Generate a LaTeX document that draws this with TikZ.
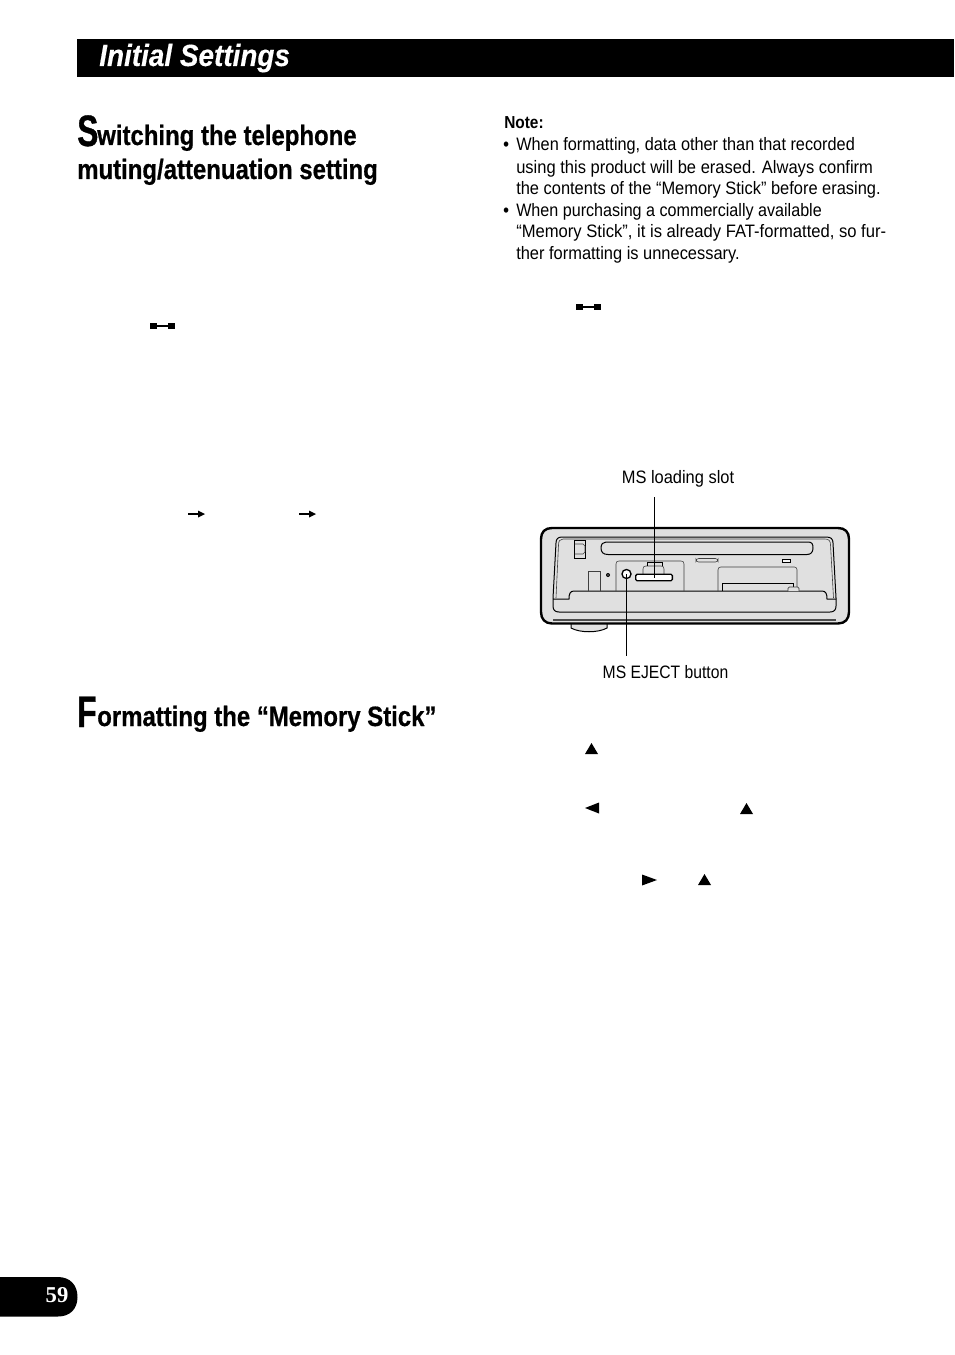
\documentclass[tikz,border=0pt]{standalone}
\usepackage{fontspec}
\setmainfont{Liberation Sans}
\newfontfamily\headf[FakeStretch=0.855,FakeBold=0.6]{Liberation Sans Bold}
\newfontfamily\bigf[FakeStretch=0.72,FakeBold=0.8]{Liberation Sans Bold}
\newfontfamily\bodyf[FakeStretch=0.913]{Liberation Sans}
\newfontfamily\notef[FakeStretch=0.89]{Liberation Sans Bold}
\newfontfamily\titlef[FakeStretch=0.91,FakeBold=0.3]{Liberation Sans Bold Italic}
\newfontfamily\numf{Liberation Serif Bold}
\tikzset{
  x=0.75pt,y=-0.75pt,
  bodytext/.style={anchor=base west,inner sep=0,font=\bodyf\fontsize{13.5}{16}\selectfont},
  bullettext/.style={anchor=base west,inner sep=0,font=\notef\fontsize{13.5}{16}\selectfont},
  headtext/.style={anchor=base west,inner sep=0,font=\headf\fontsize{21}{25}\selectfont},
  bigtext/.style={anchor=base west,inner sep=0,font=\bigf\fontsize{33}{40}\selectfont},
  captext/.style={anchor=base,inner sep=0,font=\bodyf\fontsize{13.5}{16}\selectfont},
  dl/.style={line width=0.75pt,black},
  thinl/.style={line width=0.45pt,black!75},
  glyph/.style={fill=black,draw=none},
  leadline/.style={line width=0.7pt,black},
}
\begin{document}
\begin{tikzpicture}
\useasboundingbox (0,0) rectangle (954,1355);
\fill[black] (77,39) rectangle (954,77);
\node[anchor=base west,inner sep=0,text=white,font=\titlef\fontsize{23}{28}\selectfont] (title) at (99,66) {Initial Settings};
% headings
\node[bigtext] (s1) at (77,146) {S};
\node[headtext] (h1) at (97,145) {witching the telephone};
\node[headtext] (h2) at (77,179) {muting/attenuation setting};
\node[bigtext] (f1) at (77,727) {F};
\node[headtext] (h3) at (97,726) {ormatting the “Memory Stick”};
% note
\node[anchor=base west,inner sep=0,font=\notef\fontsize{13}{16}\selectfont] (n0) at (504,129) {Note:};
\node[bullettext] (b1) at (503,151) {•};
\node[bodytext,xscale=0.991] (n1) at (516,151) {When formatting, data other than that recorded};
\node[bodytext,xscale=1.005] (n2) at (516,174) {using this product will be erased. Always confirm};
\node[bodytext] (n3) at (516,195) {the contents of the “Memory Stick” before erasing.};
\node[bullettext] (b2) at (503,217) {•};
\node[bodytext,xscale=0.981] (n4) at (516,217) {When purchasing a commercially available};
\node[bodytext,xscale=1.011] (n5) at (516,238) {“Memory Stick”, it is already FAT-formatted, so fur-};
\node[bodytext] (n6) at (516,259) {ther formatting is unnecessary.};
% small glyphs
\foreach \gx/\gy in {150/326,576/307}{
  \fill[glyph] (\gx,\gy-3) rectangle ++(7,6);
  \fill[glyph] (\gx+18,\gy-3) rectangle ++(7,6);
  \fill[glyph] (\gx+7,\gy-1) rectangle ++(11,2);
}
\foreach \gx in {188,299}{
  \fill[glyph] (\gx,513) rectangle ++(11,2);
  \fill[glyph] (\gx+10,510.5) -- (\gx+17,514) -- (\gx+10,517.5) -- cycle;
}
\foreach \gx/\gy in {585/754,740/814,698/885}{
  \fill[glyph] (\gx,\gy) -- (\gx+13,\gy) -- (\gx+6.5,\gy-11) -- cycle;
}
\fill[glyph] (585,808) -- (599,802.5) -- (599,813.5) -- cycle;
\fill[glyph] (642,874.5) -- (657,880) -- (642,885.5) -- cycle;
% foot
\draw[dl,fill=black!12] (571,621) -- (571,628) .. controls (580,633) and (598,633) .. (607,628) -- (607,621);
% device
\draw[line width=1.8pt,fill=black!12] (552,528) -- (838,528) .. controls (845,528) and (849,532) .. (849,539) -- (849,612) .. controls (849,619) and (845,623.5) .. (838,623.5) -- (552,623.5) .. controls (545,623.5) and (541,619) .. (541,612) -- (541,539) .. controls (541,532) and (545,528) .. (552,528) -- cycle;
% inner bezel
\draw[dl] (553,598) -- (556,543) .. controls (556,539) and (558,537) .. (562,537) -- (826,537) .. controls (831,537) and (833,539) .. (833,543) -- (836,598);
\draw[thinl] (556,598) -- (558.5,545) .. controls (558.5,541) and (560,539) .. (563,539) -- (825,539) .. controls (829,539) and (830.5,541) .. (830.5,545) -- (833.5,598);
% lower band
\draw[dl] (553,598) -- (553,606) .. controls (553,610) and (555,612) .. (559,612) -- (830,612) .. controls (834,612) and (836,610) .. (836,606) -- (836,598);
\draw[dl] (553,599) -- (569,599) .. controls (569,594) and (570,591) .. (574,591) -- (822,591) .. controls (826,591) and (827,594) .. (827,599) -- (836,599);
\draw[line width=1pt,black!70] (553,620) -- (836,620);
% slot
\draw[dl] (606,542) -- (808,542) .. controls (812,542) and (813,544) .. (813,548) .. controls (813,552) and (811,554.5) .. (807,554.5) -- (608,554.5) .. controls (603,554.5) and (601,552) .. (601,548) .. controls (601,544) and (603,542) .. (606,542) -- cycle;
% top-left square
\draw[dl] (574.5,540.5) rectangle (585.5,558);
\draw[thinl] (574.5,544) -- (583,544) -- (585,546) -- (585,552) -- (583,554) -- (574.5,554);
% left tab & dot
\draw[thinl] (588,591) -- (588,571) -- (600,571) -- (600,591);
\fill (608,575) circle (2);
\fill[white] (608,575) circle (0.7);
% panel
\draw[thinl] (616,591) -- (616,564) .. controls (616,562) and (617,561) .. (619,561) -- (681,561) .. controls (683,561) and (684,562) .. (684,564) -- (684,591);
% eject button
\node[circle,draw=black,line width=1pt,fill=white,minimum size=6.8pt,inner sep=0] (btn) at (626.5,574) {};
% ms slot assembly
\draw[thinl] (643,574) -- (643,569) .. controls (643,567) and (644,566) .. (646,566) -- (661,566) .. controls (663,566) and (664,567) .. (664,569) -- (664,574);
\draw[dl] (647,566) -- (647,562) -- (662,562) -- (662,566);
\node[draw=black,line width=1pt,fill=white,rounded corners=1pt,minimum width=27.5pt,minimum height=4.8pt,inner sep=0] (msslot) at (654,577.5) {};
% right details
\draw[thinl,rounded corners=2pt] (696,558.5) rectangle (718,562);
\draw[dl,fill=black!4] (782,559) rectangle (790,562);
\draw[thinl,rounded corners=2pt] (718,591) -- (718,567) -- (797,567) -- (797,591);
\draw[dl] (722,591) -- (722,583) -- (793,583) -- (793,588);
\draw[thinl,rounded corners=1pt,fill=black!12] (788,591) -- (788,587) -- (799,587) -- (799,591);
% labels and leaders
\node[captext] (l1) at (678,483) {MS loading slot};
\node[captext,xscale=0.955] (l2) at (665.5,678) {MS EJECT button};
\coordinate (l1e) at (654,497);
\coordinate (l2e) at (626.5,656);
\draw[leadline] (l1e) -- (msslot.center);
\draw[leadline] (btn.center) -- (l2e);
% page tab
\fill[black] (0,1277) -- (58,1277) .. controls (70,1277) and (77.5,1285) .. (77.5,1297) .. controls (77.5,1309) and (70,1316.5) .. (58,1316.5) -- (0,1316.5) -- cycle;
\node[anchor=base,inner sep=0,text=white,font=\numf\fontsize{17}{20}\selectfont] (pg) at (57,1302) {59};
\end{tikzpicture}
\end{document}
